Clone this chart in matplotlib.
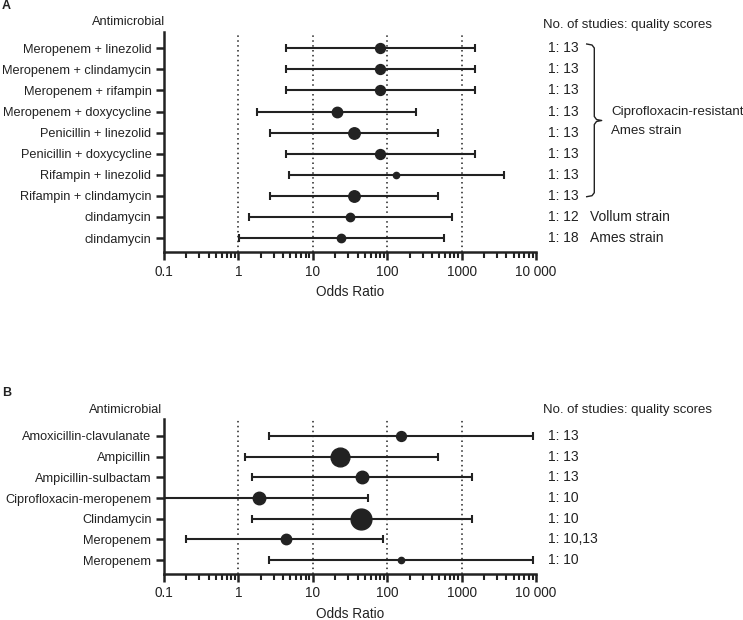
import matplotlib
matplotlib.use("Agg")
import matplotlib.pyplot as plt
from matplotlib.lines import Line2D
from matplotlib.ticker import LogLocator, FixedLocator, NullFormatter
import numpy as np

plt.rcParams['font.family'] = ['Liberation Sans', 'DejaVu Sans']

# ---------------- data ----------------
a_labels = ["Meropenem + linezolid", "Meropenem + clindamycin", "Meropenem + rifampin",
            "Meropenem + doxycycline", "Penicillin + linezolid", "Penicillin + doxycycline",
            "Rifampin + linezolid", "Rifampin + clindamycin", "clindamycin", "clindamycin"]
a_or = [80, 80, 80, 21, 36, 80, 131, 36, 32, 24]
a_low = [4.4, 4.4, 4.4, 1.8, 2.7, 4.4, 4.8, 2.7, 1.4, 1.01]
a_high = [1500, 1500, 1500, 244, 477, 1500, 3700, 477, 750, 575]
a_msize = [9.5, 9.5, 9.5, 10, 11, 9.5, 6, 11, 8, 8]
a_scores = ["1: 13"] * 8 + ["1: 12", "1: 18"]

b_labels = ["Amoxicillin-clavulanate", "Ampicillin", "Ampicillin-sulbactam",
            "Ciprofloxacin-meropenem", "Clindamycin", "Meropenem", "Meropenem"]
b_or = [152, 23.5, 46.5, 1.88, 45, 4.4, 152]
b_low = [2.6, 1.21, 1.5, 0.1, 1.5, 0.2, 2.6]
b_high = [9200, 480, 1380, 55, 1380, 88, 9200]
b_msize = [9.5, 18, 12, 12, 20, 10, 6]
b_scores = ["1: 13", "1: 13", "1: 13", "1: 10", "1: 10", "1: 10,13", "1: 10"]

xticks = [0.1, 1, 10, 100, 1000, 10000]
xticklabels = ["0.1", "1", "10", "100", "1000", "10 000"]
reflines = [1, 10, 100, 1000]

W, H = 743, 620
fig = plt.figure(figsize=(W / 100, H / 100), dpi=100)
C = "#222222"
FS = 9.2


def px(x, y):
    return x / W, 1 - y / H


def make_panel(rect, labels, orv, low, high, msz, pad_top, pad_bot):
    ax = fig.add_axes(rect)
    n = len(labels)
    ys = np.arange(n)
    for i in range(n):
        ax.errorbar([orv[i]], [ys[i]],
                    xerr=[[orv[i] - low[i]], [high[i] - orv[i]]],
                    fmt='o', color=C, ms=msz[i] * 0.75,
                    elinewidth=1.5, capsize=3, capthick=1.5, zorder=3, clip_on=True)
    for r in reflines:
        ax.axvline(r, color=C, lw=1.1, ls=(0, (1, 2.2)), zorder=1)
    ax.set_xscale('log')
    ax.set_xlim(0.1, 10000)
    ax.set_ylim(n - 1 + pad_bot, -pad_top)
    ax.set_yticks(ys)
    ax.set_yticklabels(labels, fontsize=FS, color=C)
    ax.xaxis.set_major_locator(FixedLocator(xticks))
    ax.set_xticklabels(xticklabels, fontsize=FS + 0.6, color=C)
    ax.xaxis.set_minor_locator(LogLocator(base=10, subs=np.arange(2, 10)))
    ax.xaxis.set_minor_formatter(NullFormatter())
    for s in ['top', 'right']:
        ax.spines[s].set_visible(False)
    for s in ['left', 'bottom']:
        ax.spines[s].set_linewidth(1.8)
        ax.spines[s].set_color(C)
    ax.tick_params(axis='y', length=6, width=1.8, color=C, pad=3)
    ax.tick_params(axis='x', which='major', length=6, width=1.8, color=C, pad=3)
    ax.tick_params(axis='x', which='minor', length=4, width=1.5, color=C)
    ax.set_xlabel("Odds Ratio", fontsize=FS + 0.6, color=C, labelpad=5)
    return ax


axA = make_panel([164 / W, 1 - 252 / H, 372 / W, 220 / H], a_labels, a_or, a_low, a_high,
                 a_msize, 0.77, 0.66)
axB = make_panel([164 / W, 1 - 573.5 / H, 372 / W, 154.5 / H], b_labels, b_or, b_low, b_high,
                 b_msize, 0.81, 0.64)

# panel letters and headers
fig.text(*px(2, 6), "A", fontsize=9, fontweight='bold', color=C, va='center', ha='left')
fig.text(*px(2, 393), "B", fontsize=9, fontweight='bold', color=C, va='center', ha='left')
fig.text(*px(165, 22), "Antimicrobial", fontsize=FS, color=C, va='center', ha='right')
fig.text(*px(162, 410), "Antimicrobial", fontsize=FS, color=C, va='center', ha='right')
fig.text(*px(543, 25), "No. of studies: quality scores", fontsize=9.5, color=C, va='center', ha='left')
fig.text(*px(543, 410), "No. of studies: quality scores", fontsize=9.5, color=C, va='center', ha='left')

# scores
for i, s in enumerate(a_scores):
    axA.text(1.032, i, s, transform=axA.get_yaxis_transform(), fontsize=10,
             color=C, va='center', ha='left')
for i, s in enumerate(b_scores):
    axB.text(1.032, i, s, transform=axB.get_yaxis_transform(), fontsize=10,
             color=C, va='center', ha='left')

axA.text(1.145, 8, "Vollum strain", transform=axA.get_yaxis_transform(), fontsize=10,
         color=C, va='center', ha='left')
axA.text(1.145, 9, "Ames strain", transform=axA.get_yaxis_transform(), fontsize=10,
         color=C, va='center', ha='left')

# brace
top, bot, mid = 44, 196.7, 120.5
xs = [586.7, 592, 594.3, 594.3, 596.5, 601.7, 596.5, 594.3, 594.3, 592, 586.7]
ysb = [top, top + 1, top + 4, mid - 4, mid - 1, mid, mid + 1, mid + 4, bot - 4, bot - 1, bot]
fx = [x / W for x in xs]
fy = [1 - y / H for y in ysb]
fig.add_artist(Line2D(fx, fy, transform=fig.transFigure, color=C, lw=1.0))
fig.text(*px(611, 112), "Ciprofloxacin-resistant", fontsize=9.6, color=C, va='center', ha='left')
fig.text(*px(611, 131), "Ames strain", fontsize=9.6, color=C, va='center', ha='left')

fig.savefig("out.png", dpi=100)
